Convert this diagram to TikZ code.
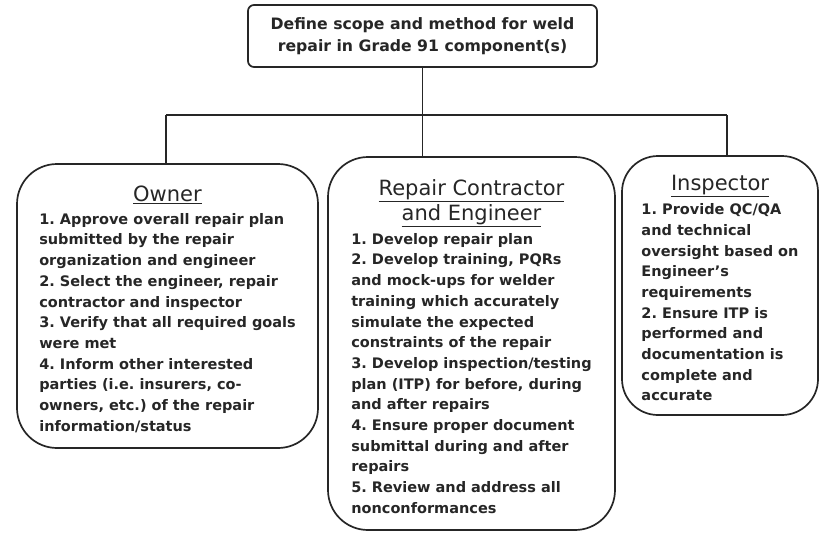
\documentclass[tikz,border=0pt]{standalone}
\usepackage{fontspec}
\setmainfont{DejaVu Sans}
\usetikzlibrary{positioning}
\definecolor{ink}{HTML}{262626}
\newcommand{\bodyfont}{\fontsize{14.5}{20.7}\selectfont\bfseries\frenchspacing}
\newcommand{\headfont}{\fontsize{21}{25}\selectfont\mdseries}
\newcommand{\rolehead}[2]{\multicolumn{1}{@{}c@{}}{\rule{0pt}{#1}\headfont\underline{#2}}}

\tikzset{
  role/.style={draw=ink, line width=1.7pt, rounded corners=40pt, inner sep=0pt, text=ink, font=\bodyfont},
  link/.style={draw=ink, line width=1.4pt},
}

\begin{document}
\begin{tikzpicture}[x=1pt, y=-1pt]
	\useasboundingbox (0,0) rectangle (821,533);

	\node[draw=ink, line width=1.7pt, rounded corners=6pt, minimum width=349pt, minimum height=62pt, align=center, text=ink, font=\fontsize{15.7}{22}\selectfont\bfseries] (scope) at (422.5,36) {Define scope and method for weld\\repair in Grade 91 component(s)};

	\node[role, minimum width=301pt, minimum height=284pt] (owner) at (167.5,306) {\begin{tabular}{@{}l@{}}
		\rolehead{27pt}{Owner}\\[2pt]
		1. Approve overall repair plan\\
		submitted by the repair\\
		organization and engineer\\
		2. Select the engineer, repair\\
		contractor and inspector\\
		3. Verify that all required goals\\
		were met\\
		4. Inform other interested\\
		parties (i.e. insurers, co-\\
		owners, etc.) of the repair\\
		information/status
	\end{tabular}};

	\node[role, minimum width=287pt, minimum height=373pt] (repair) at (471.5,343.5) {\begin{tabular}{@{}l@{}}
		\rolehead{28pt}{Repair Contractor}\\[3pt]
		\rolehead{0pt}{and Engineer}\\[3pt]
		1. Develop repair plan\\
		2. Develop training, PQRs\\
		and mock-ups for welder\\
		training which accurately\\
		simulate the expected\\
		constraints of the repair\\
		3. Develop inspection/testing\\
		plan (ITP) for before, during\\
		and after repairs\\
		4. Ensure proper document\\
		submittal during and after\\
		repairs\\
		5. Review and address all\\
		nonconformances
	\end{tabular}};

	\node[role, rounded corners=36pt, minimum width=196pt, minimum height=259pt] (inspector) at (720,285.5) {\begin{tabular}{@{}l@{}}
		\rolehead{27pt}{Inspector}\\[3pt]
		1. Provide QC/QA\\
		and technical\\
		oversight based on\\
		Engineer’s\\
		requirements\\
		2. Ensure ITP is\\
		performed and\\
		documentation is\\
		complete and\\
		accurate
	\end{tabular}};

	% branching lines
	\coordinate (busL) at (166,115);
	\coordinate (busR) at (727,115);
	\draw[link] (busL) -- (busR);
	\draw[link] (scope.south) -- (scope.south |- busL);
	\draw[link] (busL) -- (busL |- owner.north);
	\draw[link] (scope.south |- busL) -- (scope.south |- repair.north);
	\draw[link] (busR) -- (busR |- inspector.north);
\end{tikzpicture}
\end{document}
